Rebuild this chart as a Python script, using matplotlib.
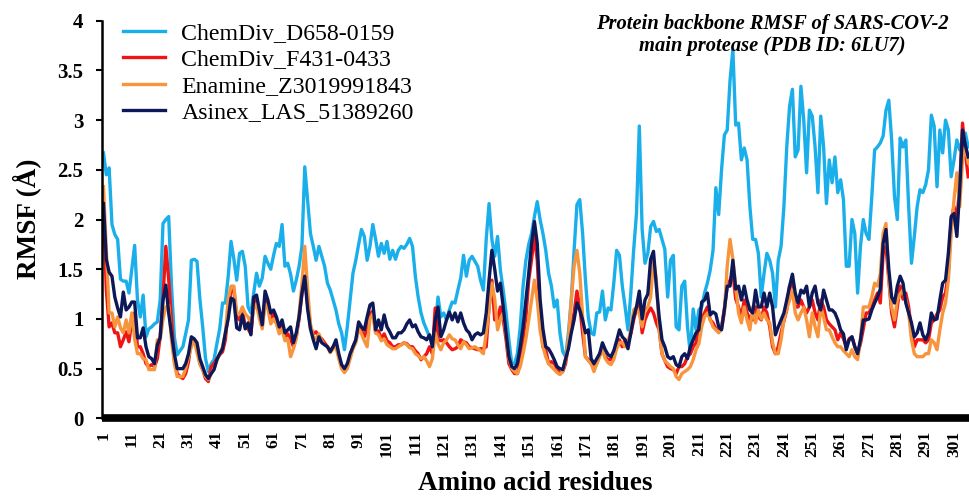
import matplotlib
matplotlib.use("Agg")
import matplotlib.pyplot as plt
from matplotlib.ticker import FuncFormatter

plt.rcParams['font.family'] = ['Liberation Serif', 'DejaVu Serif']

# ----------- Data (RMSF in Angstrom, residues 1-306) -----------
residues = list(range(1, 307))
tick_residues = list(range(1, 302, 10))
y_ticks = [0, 0.5, 1, 1.5, 2, 2.5, 3, 3.5, 4]

chemdiv_d658 = [
    2.67, 2.45, 2.52, 1.95, 1.85, 1.8, 1.4, 1.38, 1.38, 1.26,
    1.5, 1.74, 1.19, 1.02, 1.24, 0.82, 0.9, 0.92, 0.95, 0.97,
    1.19, 1.96, 2.0, 2.03, 1.33, 0.82, 0.64, 0.68, 0.72, 0.85,
    0.99, 1.59, 1.6, 1.58, 1.2, 0.92, 0.6, 0.47, 0.55, 0.59,
    0.75, 0.9, 1.16, 1.16, 1.43, 1.78, 1.6, 1.39, 1.66, 1.68,
    1.53, 1.12, 1.06, 1.26, 1.46, 1.33, 1.41, 1.63, 1.56, 1.5,
    1.64, 1.76, 1.73, 1.95, 1.53, 1.56, 1.45, 1.28, 1.39, 1.53,
    1.73, 2.53, 2.2, 1.86, 1.73, 1.59, 1.73, 1.63, 1.53, 1.36,
    1.29, 1.19, 1.09, 0.95, 0.86, 0.69, 0.92, 1.19, 1.46, 1.59,
    1.75, 1.9, 1.83, 1.59, 1.73, 1.95, 1.8, 1.63, 1.76, 1.66,
    1.78, 1.6, 1.69, 1.6, 1.69, 1.73, 1.71, 1.75, 1.81, 1.73,
    1.43, 1.22, 1.06, 0.96, 0.89, 0.82, 0.76, 0.92, 1.22, 1.02,
    1.06, 0.99, 1.09, 1.17, 1.16, 1.29, 1.41, 1.64, 1.43, 1.59,
    1.63, 1.58, 1.53, 1.39, 1.29, 1.8, 2.16, 1.8, 1.63, 1.83,
    1.49, 1.29, 1.06, 0.79, 0.55, 0.55, 0.65, 0.92, 1.33, 1.59,
    1.75, 1.86, 2.03, 2.18, 2.0, 1.86, 1.69, 1.46, 1.33, 1.12,
    1.19, 0.86, 0.67, 0.62, 0.86, 1.19, 1.69, 2.15, 2.2, 1.86,
    1.39, 1.02, 0.86, 0.84, 1.06, 1.07, 1.28, 0.99, 1.11, 1.09,
    1.36, 1.69, 1.64, 1.33, 1.12, 0.89, 1.26, 1.69, 2.06, 2.94,
    1.9, 1.56, 1.66, 1.93, 1.98, 1.88, 1.9, 1.8, 1.7, 1.22,
    1.59, 1.64, 0.92, 0.89, 1.33, 1.38, 0.92, 0.65, 1.1, 0.89,
    1.09, 1.12, 1.26, 1.36, 1.49, 1.69, 2.32, 2.05, 2.5, 2.85,
    2.9, 3.4, 3.71, 2.95, 2.97, 2.6, 2.72, 2.6, 2.13, 1.8,
    1.8, 1.66, 1.22, 1.46, 1.66, 1.59, 1.46, 1.12, 1.59, 1.73,
    2.13, 2.73, 3.14, 3.31, 2.63, 2.7, 3.34, 3.0, 2.47, 3.1,
    3.04, 2.73, 2.27, 3.04, 2.73, 2.16, 2.6, 2.37, 2.63, 2.27,
    2.4, 2.2, 1.53, 1.53, 2.0, 1.86, 1.26, 1.73, 2.0, 1.86,
    1.8, 2.23, 2.7, 2.73, 2.77, 2.84, 3.1, 3.2, 2.8, 2.23,
    2.0, 2.82, 2.73, 2.8, 2.13, 1.56, 1.83, 2.13, 2.3, 2.27,
    2.35, 2.5, 3.05, 2.94, 2.33, 2.9, 2.67, 3.0, 2.9, 2.43,
    2.6, 2.8, 2.7, 2.8, 2.87, 2.73,
]

chemdiv_f431 = [
    2.13, 1.3, 0.92, 0.96, 0.86, 0.86, 0.72, 0.79, 0.87, 0.77,
    0.99, 1.06, 0.72, 0.72, 0.65, 0.55, 0.52, 0.54, 0.52, 0.6,
    0.82, 1.22, 1.73, 1.4, 1.0, 0.59, 0.45, 0.42, 0.4, 0.45,
    0.57, 0.79, 0.76, 0.72, 0.55, 0.49, 0.4, 0.37, 0.52, 0.55,
    0.6, 0.64, 0.67, 0.79, 1.1, 1.29, 1.29, 1.02, 0.99, 1.09,
    0.92, 0.9, 0.85, 1.15, 1.2, 1.05, 0.92, 1.2, 1.15, 1.0,
    1.05, 0.98, 0.88, 0.95, 0.82, 0.85, 0.8, 0.72, 0.82, 1.0,
    1.25, 1.42, 1.15, 0.92, 0.85, 0.87, 0.82, 0.8, 0.76, 0.72,
    0.68, 0.72, 0.75, 0.62, 0.52, 0.48, 0.52, 0.62, 0.72, 0.78,
    0.92, 0.88, 0.82, 0.9, 1.05, 1.08, 0.86, 0.88, 0.8, 0.85,
    0.78, 0.76, 0.72, 0.72, 0.74, 0.74, 0.76, 0.75, 0.72, 0.72,
    0.68, 0.65, 0.59, 0.62, 0.65, 0.72, 0.65, 1.11, 0.79, 0.78,
    0.79, 0.76, 0.72, 0.69, 0.7, 0.72, 0.79, 0.77, 0.76, 0.72,
    0.71, 0.7, 0.69, 0.7, 0.7, 0.72, 1.12, 1.39, 0.99, 1.0,
    1.12, 1.0, 0.79, 0.55, 0.49, 0.45, 0.45, 0.59, 0.8, 1.02,
    1.39, 1.6, 1.83, 1.59, 1.02, 0.72, 0.69, 0.55, 0.57, 0.55,
    0.5, 0.45, 0.47, 0.55, 0.75, 0.9, 1.06, 1.28, 1.12, 0.86,
    0.62, 0.59, 0.55, 0.52, 0.55, 0.65, 0.69, 0.62, 0.59, 0.59,
    0.65, 0.75, 0.79, 0.72, 0.79, 0.76, 0.85, 0.99, 1.1, 1.16,
    0.86, 0.99, 1.06, 1.11, 1.06, 0.96, 0.89, 0.65, 0.58, 0.52,
    0.5, 0.49, 0.45, 0.52, 0.52, 0.55, 0.62, 0.65, 0.72, 0.76,
    0.92, 1.0, 1.06, 1.12, 0.99, 0.96, 0.9, 0.87, 0.92, 1.1,
    1.33, 1.39, 1.46, 1.2, 1.12, 1.02, 1.19, 1.06, 1.0, 0.99,
    1.12, 1.02, 0.99, 1.12, 1.06, 0.92, 0.72, 0.65, 0.72, 0.86,
    0.98, 1.09, 1.33, 1.36, 1.12, 1.12, 1.19, 1.12, 1.06, 1.12,
    1.19, 1.06, 0.99, 1.19, 1.12, 0.99, 0.95, 0.92, 0.89, 0.79,
    0.86, 0.8, 0.72, 0.8, 0.82, 0.72, 0.65, 0.75, 0.9, 1.06,
    1.06, 1.12, 1.19, 1.26, 1.16, 1.66, 1.73, 1.39, 1.06, 0.92,
    1.12, 1.33, 1.2, 1.26, 1.12, 0.89, 0.72, 0.79, 0.79, 0.79,
    0.76, 0.79, 0.96, 0.99, 1.05, 1.09, 1.22, 1.26, 1.46, 2.0,
    2.13, 2.0, 2.33, 2.97, 2.67, 2.43,
]

enamine_z301 = [
    2.33, 1.69, 1.06, 1.06, 0.92, 1.02, 0.91, 0.86, 0.99, 0.86,
    1.06, 0.8, 0.65, 0.65, 0.6, 0.59, 0.49, 0.49, 0.49, 0.79,
    0.79, 1.0, 1.12, 1.14, 0.79, 0.55, 0.42, 0.42, 0.42, 0.5,
    0.62, 0.72, 0.79, 0.66, 0.55, 0.49, 0.42, 0.39, 0.45, 0.5,
    0.58, 0.65, 0.72, 0.85, 1.2, 1.33, 1.33, 1.06, 1.05, 1.12,
    1.05, 1.02, 0.95, 1.1, 1.15, 1.0, 0.9, 1.15, 1.1, 0.95,
    1.0, 0.95, 0.85, 0.9, 0.78, 0.8, 0.62, 0.7, 0.8, 1.05,
    1.35, 1.73, 1.3, 0.95, 0.82, 0.8, 0.85, 0.78, 0.74, 0.72,
    0.66, 0.7, 0.72, 0.6, 0.5, 0.46, 0.5, 0.6, 0.7, 0.76,
    0.9, 0.85, 0.78, 0.72, 1.0, 1.05, 0.86, 0.84, 0.78, 0.8,
    0.74, 0.72, 0.7, 0.7, 0.72, 0.74, 0.76, 0.74, 0.71, 0.7,
    0.65, 0.63, 0.6, 0.62, 0.58, 0.52, 0.6, 0.86, 0.75, 0.69,
    0.76, 0.79, 0.84, 0.8, 0.79, 0.74, 0.7, 0.77, 0.74, 0.7,
    0.71, 0.72, 0.7, 0.68, 0.65, 0.86, 1.1, 1.36, 1.2, 0.89,
    0.99, 1.06, 0.85, 0.6, 0.5, 0.47, 0.45, 0.52, 0.65, 0.8,
    0.99, 1.19, 1.39, 1.19, 0.89, 0.72, 0.62, 0.55, 0.52, 0.49,
    0.46, 0.44, 0.47, 0.59, 0.79, 1.19, 1.53, 1.69, 1.46, 1.02,
    0.62, 0.58, 0.55, 0.47, 0.55, 0.62, 0.69, 0.6, 0.56, 0.54,
    0.59, 0.7, 0.76, 0.76, 0.72, 0.76, 0.89, 1.09, 1.12, 1.05,
    0.92, 1.09, 1.12, 1.22, 1.59, 1.4, 0.89, 0.65, 0.58, 0.55,
    0.52, 0.5, 0.42, 0.39, 0.45, 0.47, 0.49, 0.52, 0.59, 0.69,
    0.75, 0.92, 1.02, 1.06, 0.99, 0.92, 0.89, 0.86, 0.9, 1.06,
    1.53, 1.8, 1.6, 1.33, 1.06, 0.96, 1.12, 0.99, 0.89, 1.12,
    0.96, 1.09, 1.0, 1.06, 0.99, 0.96, 0.76, 0.65, 0.65, 0.79,
    0.99, 1.1, 1.19, 1.29, 1.06, 0.99, 1.06, 1.12, 0.99, 0.82,
    1.06, 0.92, 0.82, 1.12, 1.02, 0.89, 0.89, 0.82, 0.76, 0.72,
    0.72, 0.68, 0.65, 0.62, 0.69, 0.62, 0.59, 0.79, 1.12, 1.12,
    1.12, 1.22, 1.36, 1.33, 1.45, 1.86, 1.96, 1.4, 1.12, 0.99,
    1.19, 1.25, 1.29, 1.19, 1.06, 0.79, 0.65, 0.62, 0.62, 0.62,
    0.65, 0.65, 0.79, 0.76, 0.69, 0.89, 1.06, 1.16, 1.39, 1.86,
    2.2, 2.47, 2.13, 2.6, 2.73, 2.57,
]

asinex_las = [
    2.16, 1.6, 1.47, 1.43, 1.22, 1.11, 1.02, 1.27, 1.09, 1.12,
    1.17, 1.17, 0.81, 0.81, 0.91, 0.72, 0.62, 0.6, 0.55, 0.74,
    0.81, 1.19, 1.34, 1.06, 0.85, 0.65, 0.5, 0.5, 0.5, 0.55,
    0.65, 0.82, 0.8, 0.76, 0.6, 0.52, 0.44, 0.4, 0.45, 0.49,
    0.59, 0.65, 0.7, 0.86, 1.0, 1.21, 1.19, 0.91, 0.89, 1.04,
    0.9, 0.96, 0.84, 1.22, 1.24, 1.09, 0.94, 1.28, 1.19, 1.06,
    1.09, 1.02, 0.92, 0.99, 0.86, 0.89, 0.92, 0.76, 0.86, 1.02,
    1.26, 1.43, 1.1, 0.9, 0.79, 0.7, 0.82, 0.76, 0.74, 0.72,
    0.67, 0.72, 0.79, 0.65, 0.54, 0.5, 0.55, 0.65, 0.72, 0.79,
    0.97, 0.92, 0.89, 1.02, 1.14, 1.16, 0.89, 0.99, 0.89, 1.04,
    0.92, 0.87, 0.81, 0.81, 0.86, 0.86, 0.89, 0.95, 0.99, 0.92,
    0.94, 0.87, 0.82, 0.81, 0.79, 0.84, 0.72, 0.99, 1.12, 0.82,
    0.89, 0.99, 1.07, 0.99, 1.06, 0.97, 1.06, 0.96, 0.89, 0.86,
    0.79, 0.84, 0.86, 0.84, 0.86, 1.06, 1.39, 1.69, 1.5, 1.28,
    1.36, 1.12, 0.86, 0.62, 0.52, 0.5, 0.55, 0.72, 0.92, 1.19,
    1.46, 1.76, 1.98, 1.76, 1.2, 0.9, 0.72, 0.7, 0.65, 0.59,
    0.52, 0.5, 0.49, 0.6, 0.7, 0.86, 0.99, 1.16, 1.09, 0.99,
    0.86, 0.89, 0.6, 0.55, 0.6, 0.65, 0.76, 0.69, 0.64, 0.62,
    0.68, 0.78, 0.89, 0.82, 0.79, 0.7, 0.86, 1.02, 1.12, 1.28,
    1.0, 1.19, 1.25, 1.6, 1.68, 1.33, 1.02, 0.79, 0.72, 0.62,
    0.6, 0.62, 0.54, 0.52, 0.62, 0.65, 0.6, 0.72, 0.79, 0.86,
    0.89, 1.17, 1.19, 1.26, 1.04, 1.07, 1.05, 0.92, 0.89, 1.09,
    1.33, 1.33, 1.59, 1.3, 1.33, 1.19, 1.33, 1.19, 1.09, 1.06,
    1.29, 1.12, 1.12, 1.26, 1.12, 1.26, 1.12, 0.84, 0.92, 0.99,
    1.06, 1.19, 1.33, 1.45, 1.26, 1.16, 1.29, 1.26, 1.33, 1.12,
    1.26, 1.33, 1.16, 1.09, 1.29, 1.19, 1.09, 1.09, 1.06, 0.99,
    0.89, 0.85, 0.69, 0.79, 0.82, 0.72, 0.65, 0.79, 0.99, 0.99,
    1.0, 1.09, 1.16, 1.22, 1.3, 1.76, 1.9, 1.5, 1.22, 1.16,
    1.33, 1.43, 1.36, 1.16, 1.06, 0.96, 0.82, 0.86, 0.96, 0.84,
    0.79, 0.86, 1.06, 0.99, 1.0, 1.19, 1.36, 1.39, 1.66, 2.03,
    2.06, 1.83, 2.3, 2.9, 2.75, 2.63,
]

series_names = ["ChemDiv_D658-0159", "ChemDiv_F431-0433",
                "Enamine_Z3019991843", "Asinex_LAS_51389260"]
series_colors = ["#1AAFEA", "#F01414", "#F7943C", "#0C1858"]

# ----------- Plot -----------
fig = plt.figure(figsize=(9.7, 4.98), dpi=100)
ax = fig.add_axes([0.1052, 0.16, 0.8944, 0.7984])

all_series = [chemdiv_d658, chemdiv_f431, enamine_z301, asinex_las]
for vals, name, col in zip(all_series, series_names, series_colors):
    ax.plot(residues, vals, color=col, lw=2.4, label=name,
            solid_joinstyle='round')

ax.set_xlim(0.5, 306.5)
ax.set_ylim(0, 4)

ax.set_yticks(y_ticks)
ax.yaxis.set_major_formatter(FuncFormatter(lambda v, p: f"{v:g}"))
ax.tick_params(axis='y', direction='out', length=4.5, width=1.5, pad=9,
               labelsize=15)
for lbl in ax.get_yticklabels():
    lbl.set_fontweight('bold')

ax.set_xticks(tick_residues)
ax.set_xticklabels([str(t) for t in tick_residues], rotation=90,
                   fontweight='bold', fontsize=12.5)
ax.tick_params(axis='x', length=0, pad=9)

for side in ['top', 'right']:
    ax.spines[side].set_visible(False)
ax.spines['left'].set_linewidth(1.8)
ax.spines['bottom'].set_linewidth(5.5)
ax.spines['bottom'].set_capstyle('butt')

fig.text(0.027, 0.56, "RMSF (Å)", rotation=90, ha='center', va='center',
         fontsize=19.5, fontweight='bold')
fig.text(0.552, 0.03, "Amino acid residues", ha='center', va='center',
         fontsize=19.5, fontweight='bold')
fig.text(0.796, 0.93, "Protein backbone RMSF of SARS-COV-2\nmain protease (PDB ID: 6LU7)",
         ha='center', va='center', multialignment='center',
         fontsize=14.8, fontweight='bold', style='italic', linespacing=1.15)

ax.legend(loc='upper left', bbox_to_anchor=(0.024, 0.996), frameon=False,
          fontsize=17.2, handlelength=1.75, handletextpad=0.7,
          labelspacing=0.2, borderpad=0, borderaxespad=0)

fig.savefig("out.png", dpi=100)
